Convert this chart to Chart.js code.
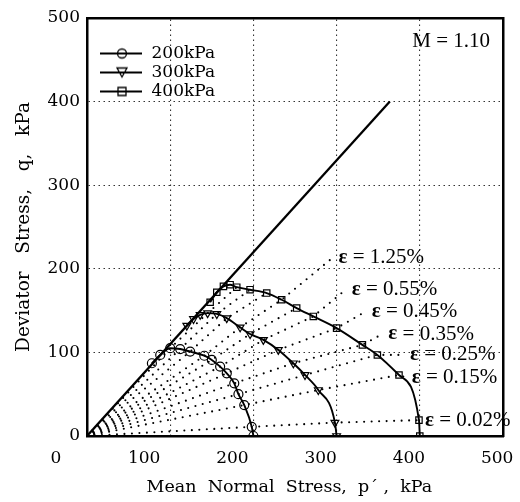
<!DOCTYPE html>
<html>
<head>
<meta charset="utf-8">
<script src="https://cdn.jsdelivr.net/npm/chart.js@4.4.1/dist/chart.umd.min.js"></script>
<style>
html,body{margin:0;padding:0;background:#ffffff;overflow:hidden;}
canvas{display:block;}
</style>
</head>
<body>
<canvas id="chart" width="520" height="502"></canvas>
<script>
// ---------------- data ----------------
const SERIES_NAMES = ['200kPa', '300kPa', '400kPa'];

const P_200 = [78, 88, 100, 112, 124, 141, 150, 160, 168, 177, 182, 189, 198, 200];
const Q_200 = [87, 97, 105, 104, 101, 96, 91, 83, 75, 63, 50, 37, 11, 0];

const P_300 = [120, 128, 136, 145, 156, 168, 184, 196, 212, 230, 248, 262, 278, 298, 300];
const Q_300 = [132, 140, 145, 147, 146, 141, 130, 122, 115, 103, 87, 73, 55, 16, 0];

const P_400 = [148, 156, 164, 172, 180, 196, 216, 234, 252, 272, 300, 331, 349, 375, 399, 400];
const Q_400 = [160, 172, 179, 181, 178, 175, 171, 163, 153, 143, 129, 109, 97, 73, 19, 0];

const M_LINE_P = [0, 364];
const M_LINE_Q = [0, 400];
const M_LABEL = 'M = 1.10';

// lines of equal strain: origin, point on 200 / 300 / 400 kPa paths, end of line
const STRAIN_LABELS = ['ε = 0.02%', 'ε = 0.15%', 'ε = 0.25%', 'ε = 0.35%', 'ε = 0.45%', 'ε = 0.55%', '', 'ε = 1.25%', '', '', ''];
const STRAIN_P = [
  [0, 198, 298, 399],
  [0, 189, 278, 375, 383],
  [0, 182, 262, 349, 381],
  [0, 177, 248, 331, 355],
  [0, 168, 230, 300, 335],
  [0, 160, 212, 272, 311],
  [0, 150, 196, 252],
  [0, 141, 184, 234, 295],
  [0, 124, 168, 216],
  [0, 112, 156, 196],
  [0, 100, 145, 180]
];
const STRAIN_Q = [
  [0, 11, 16, 19],
  [0, 37, 55, 73, 70],
  [0, 50, 73, 97, 97],
  [0, 63, 87, 109, 122],
  [0, 75, 103, 129, 149],
  [0, 83, 115, 143, 175],
  [0, 91, 122, 153],
  [0, 96, 130, 163, 213],
  [0, 101, 141, 171],
  [0, 104, 146, 175],
  [0, 105, 147, 178]
];

const X_TICKS = [0, 100, 200, 300, 400, 500];
const X_GRID = [100, 200, 300, 400];
const Y_TICKS = [0, 100, 200, 300, 400, 500];
const X_TITLE = 'Mean  Normal  Stress,  p\u00B4 ,  kPa  ';
const Y_TITLE = 'Deviator   Stress,   q,   kPa';

// ---------------- styling ----------------
const SERIF = '"DejaVu Serif", serif';
const LSERIF = '"Liberation Serif", serif';
const BLACK = '#000000';
const GRID_COLOR = '#333333';
// label axis range (the printed tick labels sit slightly off the grid in the original)
const XL_MIN = 35.2, XL_MAX = 506.6;

const toPts = (P, Q) => P.map((p, i) => ({x: p, y: Q[i]}));

function legendImage(kind) {
  const c = document.createElement('canvas');
  c.width = 54; c.height = 14;
  const g = c.getContext('2d');
  g.strokeStyle = BLACK;
  g.lineWidth = 1.8;
  g.beginPath(); g.moveTo(11, 7); g.lineTo(53, 7); g.stroke();
  g.lineWidth = 1.3;
  g.beginPath();
  if (kind === 'circle') { g.arc(33, 7, 4.5, 0, Math.PI * 2); }
  else if (kind === 'tri') { g.moveTo(28, 2.5); g.lineTo(38, 2.5); g.lineTo(33, 11.5); g.closePath(); }
  else { g.rect(29, 3, 8, 8); }
  g.stroke();
  return c;
}
const LEGEND_IMGS = [legendImage('circle'), legendImage('tri'), legendImage('rect')];

const curveStyle = {
  showLine: true,
  borderColor: BLACK,
  borderWidth: 1.9,
  cubicInterpolationMode: 'monotone',
  pointRadius: 4.5,
  pointBorderWidth: 1.2,
  pointBorderColor: BLACK,
  pointBackgroundColor: 'rgba(0,0,0,0)',
  xAxisID: 'x', yAxisID: 'y'
};

const datasets = [
  Object.assign({label: SERIES_NAMES[0], data: toPts(P_200, Q_200), pointStyle: 'circle'}, curveStyle),
  Object.assign({label: SERIES_NAMES[1], data: toPts(P_300, Q_300), pointStyle: 'triangle', pointRotation: 180}, curveStyle),
  Object.assign({label: SERIES_NAMES[2], data: toPts(P_400, Q_400), pointStyle: 'rect', pointRadius: 4.2}, curveStyle),
  {label: 'M', data: toPts(M_LINE_P, M_LINE_Q), showLine: true, borderColor: BLACK, borderWidth: 2.3, pointRadius: 0, xAxisID: 'x', yAxisID: 'y'}
];
STRAIN_P.forEach((P, i) => {
  datasets.push({
    label: STRAIN_LABELS[i] || 'strain',
    data: toPts(P, STRAIN_Q[i]),
    showLine: true,
    borderColor: BLACK,
    borderWidth: 2.1,
    borderDash: [0, 7.5],
    borderCapStyle: 'round',
    pointRadius: 0,
    xAxisID: 'x', yAxisID: 'y'
  });
});

const annotations = {
  id: 'annotations',
  afterDatasetsDraw(chart) {
    const {ctx, chartArea, scales} = chart;
    const sx = scales.x, sy = scales.y;
    ctx.save();
    ctx.fillStyle = BLACK;
    ctx.textBaseline = 'middle';
    ctx.textAlign = 'left';
    STRAIN_LABELS.forEach((lab, i) => {
      if (!lab) return;
      const P = STRAIN_P[i], Q = STRAIN_Q[i];
      const px = sx.getPixelForValue(P[P.length - 1]) + 6;
      const py = sy.getPixelForValue(Q[Q.length - 1]);
      ctx.font = 'bold 21px ' + LSERIF;
      ctx.fillText(lab.charAt(0), px, py);
      const w = ctx.measureText(lab.charAt(0)).width;
      ctx.font = '21px ' + LSERIF;
      ctx.fillText(lab.slice(1), px + w, py);
    });
    ctx.textAlign = 'right';
    ctx.font = '21px ' + LSERIF;
    ctx.fillText(M_LABEL, chartArea.right - 13, chartArea.top + 23);
    ctx.restore();
  }
};

const tickFont = {family: SERIF, size: 17};

new Chart(document.getElementById('chart'), {
  type: 'scatter',
  data: {datasets},
  options: {
    responsive: false,
    animation: false,
    devicePixelRatio: 1,
    layout: {padding: {top: 18, left: 0, right: 17, bottom: 0}},
    plugins: {
      tooltip: {enabled: false},
      legend: {
        position: 'chartArea',
        align: 'start',
        title: {display: true, text: ' ', font: {size: 10, lineHeight: 1}, padding: {top: 33, bottom: 0}},
        labels: {
          usePointStyle: true,
          pointStyleWidth: 54,
          padding: 2,
          color: BLACK,
          font: {family: SERIF, size: 17, lineHeight: 1},
          generateLabels: () => SERIES_NAMES.map((name, i) => ({
            text: name, pointStyle: LEGEND_IMGS[i], fillStyle: 'rgba(0,0,0,0)',
            strokeStyle: 'rgba(0,0,0,0)', lineWidth: 0, hidden: false, datasetIndex: i, fontColor: BLACK
          }))
        }
      }
    },
    scales: {
      x: {
        type: 'linear', position: 'top', min: 0, max: 500,
        afterBuildTicks: s => { s.ticks = X_GRID.map(v => ({value: v})); },
        ticks: {display: false},
        grid: {color: GRID_COLOR, lineWidth: 1.1, drawTicks: false},
        border: {display: true, color: BLACK, width: 2.5, dash: [1.5, 3.5]},
        afterFit: s => { s.height = 0; s.paddingLeft = 0; s.paddingRight = 0; }
      },
      xl: {
        type: 'linear', position: 'bottom', min: XL_MIN, max: XL_MAX,
        afterBuildTicks: s => { s.ticks = X_TICKS.map(v => ({value: v})); },
        ticks: {autoSkip: false, maxRotation: 0, color: BLACK, font: tickFont, padding: 12},
        grid: {display: false, drawTicks: false},
        border: {display: true, color: BLACK, width: 2.5},
        title: {display: true, text: X_TITLE, color: BLACK, font: {family: SERIF, size: 17.5}, padding: {top: 0, bottom: 4}},
        afterFit: s => { s.height = 66; s.paddingLeft = 0; s.paddingRight = 0; }
      },
      y: {
        type: 'linear', position: 'left', min: 0, max: 500,
        afterBuildTicks: s => { s.ticks = Y_TICKS.map(v => ({value: v})); },
        ticks: {color: BLACK, font: tickFont, padding: 7},
        grid: {
          color: c => (c.tick && (c.tick.value === 0 || c.tick.value === 500)) ? 'rgba(0,0,0,0)' : GRID_COLOR,
          lineWidth: 1.1, drawTicks: false
        },
        border: {display: true, color: BLACK, width: 2.5, dash: [1.5, 3.5]},
        title: {display: true, text: Y_TITLE, color: BLACK, font: {family: SERIF, size: 18.5}, padding: {top: 13, bottom: 0}},
        afterFit: s => { s.width = 87; s.paddingTop = 0; s.paddingBottom = 0; }
      },
      y2: {
        type: 'linear', position: 'right', min: 0, max: 500,
        ticks: {display: false},
        grid: {display: false, drawTicks: false},
        border: {display: true, color: BLACK, width: 2.5},
        afterFit: s => { s.width = 0; s.paddingTop = 0; s.paddingBottom = 0; }
      }
    }
  },
  plugins: [annotations]
});
</script>
</body>
</html>
